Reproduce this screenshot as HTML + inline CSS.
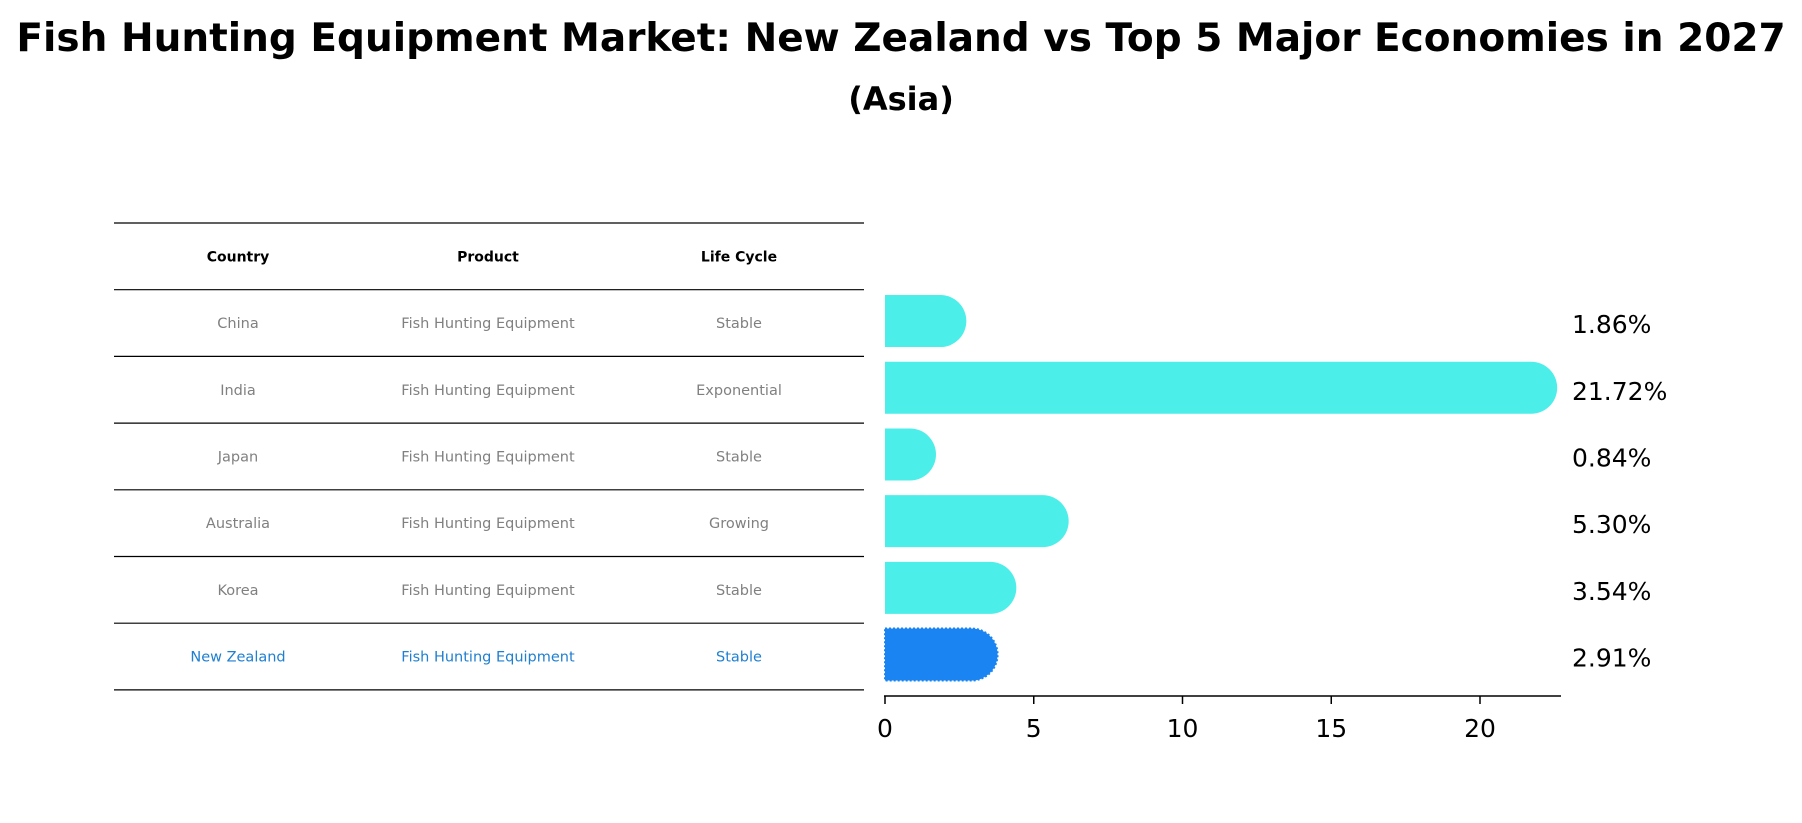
<!DOCTYPE html>
<html><head><meta charset="utf-8"><style>
body{margin:0;background:#fff;}
svg{display:block;font-family:"DejaVu Sans","Liberation Sans",sans-serif;}
</style></head><body>
<svg id="c" width="1802" height="823" viewBox="0 0 1802 823" xmlns="http://www.w3.org/2000/svg">
<text x="901" y="51" text-anchor="middle" font-size="39" font-weight="bold" fill="#000">Fish Hunting Equipment Market: New Zealand vs Top 5 Major Economies in 2027</text>
<text x="901" y="110" text-anchor="middle" font-size="32" font-weight="bold" fill="#000">(Asia)</text>
<g id="table"></g>
<g id="bars"></g>
</svg>
<script>
const countries = ["China","India","Japan","Australia","Korea","New Zealand"];
const products = ["Fish Hunting Equipment","Fish Hunting Equipment","Fish Hunting Equipment","Fish Hunting Equipment","Fish Hunting Equipment","Fish Hunting Equipment"];
const lifecycles = ["Stable","Exponential","Stable","Growing","Stable","Stable"];
const values = [1.86,21.72,0.84,5.30,3.54,2.91];
const valueLabels = ["1.86%","21.72%","0.84%","5.30%","3.54%","2.91%"];
const xTicks = [0,5,10,15,20];

const NS="http://www.w3.org/2000/svg";
function mk(tag,attrs,parent,text){const e=document.createElementNS(NS,tag);for(const k in attrs)e.setAttribute(k,attrs[k]);if(text!==undefined)e.textContent=text;parent.appendChild(e);return e;}
const tbl=document.getElementById('table');
const rowTop=223,rowH=66.7,tL=114,tR=864,colX=[238,488,739];
const xScale=v=>885+v*29.75;
const rowY=i=>rowTop+rowH*(i+1.5);

for(let i=0;i<=countries.length+1;i++){
  const l=mk('line',{x1:tL,x2:tR,y1:rowTop+rowH*i,y2:rowTop+rowH*i,stroke:'#000','stroke-width':1.2},tbl);
  
  
}
["Country","Product","Life Cycle"].forEach((h,j)=>{
  const t=mk('text',{x:colX[j],y:rowTop+rowH*0.5+5,'text-anchor':'middle','font-size':14,'font-weight':'bold',fill:'#000'},tbl,h);
  
  
});
countries.forEach((c,i)=>{
  const col=i===countries.length-1?'#1f7fd0':'#808080';
  [c,products[i],lifecycles[i]].forEach((v,j)=>{
    const t=mk('text',{x:colX[j],y:rowY(i)+5,'text-anchor':'middle','font-size':14.5,fill:col},tbl,v);
    
    
  });
});

const bg=document.getElementById('bars');
const bh=52,r=26;
values.forEach((v,i)=>{
  const cy=rowY(i)-2;
  const x0=xScale(0),x1=xScale(v);
  const nz=i===values.length-1;
  const d=`M${x0},${cy-bh/2} H${x1} A${r},${r} 0 0 1 ${x1},${cy+bh/2} H${x0} Z`;
  const p=mk('path',{d:d,fill:nz?'#1a85f2':'#4beee8',stroke:nz?'#1a85f2':'none','stroke-width':nz?2:0,'stroke-dasharray':nz?'2 2':'none'},bg);
  
  
  const t=mk('text',{x:1572,y:cy+12,'font-size':25,fill:'#000'},bg,valueLabels[i]);
  
  
});
const ax=mk('line',{x1:884,x2:1561,y1:696,y2:696,stroke:'#000','stroke-width':1.5},bg);


xTicks.forEach(tv=>{
  const x=xScale(tv);
  const tk=mk('line',{x1:x,x2:x,y1:696,y2:704,stroke:'#000','stroke-width':1.5},bg);
  
  
  const tl=mk('text',{x:x,y:737,'text-anchor':'middle','font-size':25,fill:'#000'},bg,String(tv));
  
  
});
</script>
</body></html>
